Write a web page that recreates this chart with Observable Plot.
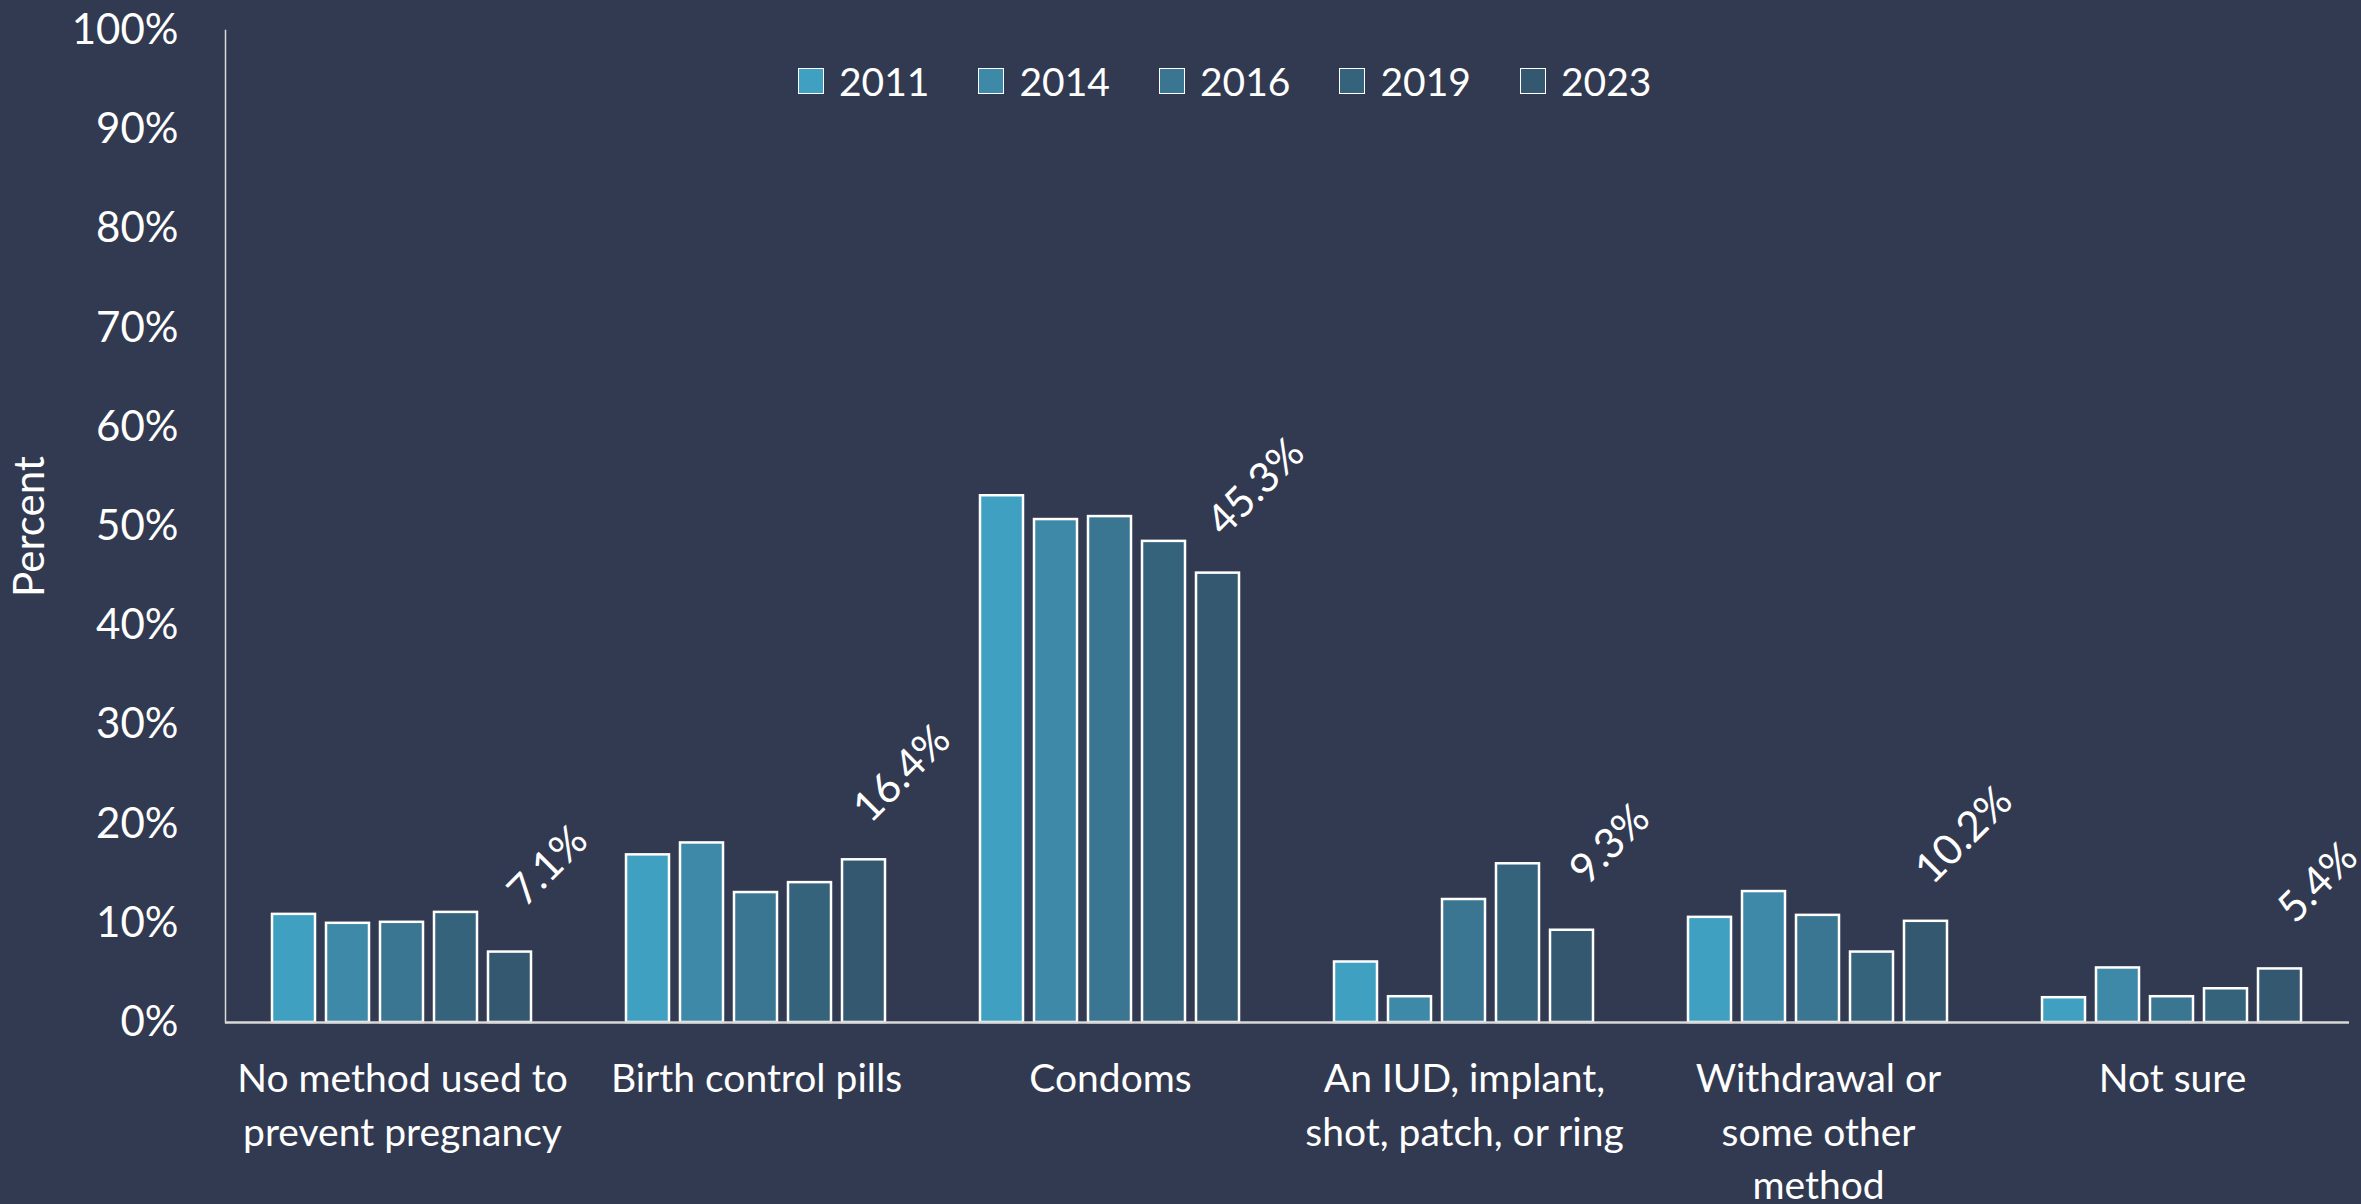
<!DOCTYPE html>
<html>
<head>
<meta charset="utf-8">
<script src="https://cdn.jsdelivr.net/npm/d3@7"></script>
<script src="https://cdn.jsdelivr.net/npm/@observablehq/plot@0.6"></script>
<style>
  html, body { margin: 0; padding: 0; background: #323a51; }
  #wrap { position: relative; width: 2361px; height: 1204px; overflow: hidden; background: #323a51; font-family: Lato, sans-serif; }
  #legend { position: absolute; left: 798px; top: 58px; display: flex; align-items: center; color: #fff; font-size: 39px; font-family: Lato, sans-serif; }
  #legend .item { display: flex; align-items: center; margin-right: 49px; }
  #legend .sw { width: 24px; height: 24px; border: 1.5px solid #fff; margin-right: 15px; }
</style>
</head>
<body>
<div id="wrap">
  <div id="chart"></div>
  <div id="legend"></div>
</div>
<script>
const categories = [
  "No method used to prevent pregnancy",
  "Birth control pills",
  "Condoms",
  "An IUD, implant, shot, patch, or ring",
  "Withdrawal or some other method",
  "Not sure"
];
const categoryLabels = [
  "No method used to\nprevent pregnancy",
  "Birth control pills",
  "Condoms",
  "An IUD, implant,\nshot, patch, or ring",
  "Withdrawal or\nsome other\nmethod",
  "Not sure"
];
const years = ["2011", "2014", "2016", "2019", "2023"];
const v2011 = [10.9, 16.9, 53.1, 6.1, 10.6, 2.5];
const v2014 = [10.0, 18.1, 50.7, 2.6, 13.2, 5.5];
const v2016 = [10.1, 13.1, 51.0, 12.4, 10.8, 2.6];
const v2019 = [11.1, 14.1, 48.5, 16.0, 7.1, 3.4];
const v2023 = [7.1, 16.4, 45.3, 9.3, 10.2, 5.4];
const yTicks = [0, 10, 20, 30, 40, 50, 60, 70, 80, 90, 100];
const colors = ["#3fa0c1", "#3e88a8", "#3a7591", "#36637c", "#34586f"];

const series = [v2011, v2014, v2016, v2019, v2023];
const data = [];
categories.forEach((c, i) => {
  years.forEach((y, j) => data.push({category: c, year: y, value: series[j][i]}));
});
const labelOf = new Map(categories.map((c, i) => [c, categoryLabels[i]]));

const chart = Plot.plot({
  width: 2361,
  height: 1204,
  marginLeft: 224,
  marginRight: 11,
  marginTop: 30,
  marginBottom: 182,
  style: {fontFamily: "Lato, sans-serif", fontSize: "39px", color: "#ffffff", background: "#323a51", overflow: "visible"},
  fx: {domain: categories, padding: 0, label: null},
  x: {domain: years, paddingInner: 0.2, paddingOuter: 0.85, axis: null},
  y: {domain: [0, 100]},
  color: {domain: years, range: colors},
  marks: [
    Plot.barY(data, {fx: "category", x: "year", y: "value", fill: "year", stroke: "#ffffff", strokeWidth: 2.5}),
    Plot.ruleY([0], {stroke: "#d9d9d9", strokeWidth: 2.5}),
    Plot.frame({anchor: "left", facetAnchor: "left", stroke: "#d9d9d9", strokeWidth: 1.5}),
    Plot.text(data.filter(d => d.year === "2023"), {
      fx: "category", x: "year", y: "value",
      text: d => d.value.toFixed(1) + "%",
      rotate: -45, dx: 38, dy: -86, fontSize: 42, fill: "#ffffff",
      textAnchor: "middle", lineAnchor: "middle"
    }),
    Plot.axisY({ticks: yTicks, tickFormat: d => d + "%", tickSize: 0, tickPadding: 47, fontSize: 42,
      label: "Percent", labelAnchor: "center", labelOffset: 211, labelArrow: "none"}),
    Plot.axisFx({anchor: "bottom", tickSize: 0, tickPadding: 32, fontSize: 39, lineHeight: 1.37,
      tickFormat: d => labelOf.get(d), label: null})
  ]
});
document.getElementById("chart").appendChild(chart);

const legend = document.getElementById("legend");
years.forEach((y, i) => {
  const item = document.createElement("div");
  item.className = "item";
  const sw = document.createElement("div");
  sw.className = "sw";
  sw.style.background = colors[i];
  const lab = document.createElement("span");
  lab.textContent = y;
  item.appendChild(sw);
  item.appendChild(lab);
  legend.appendChild(item);
});
</script>
</body>
</html>
